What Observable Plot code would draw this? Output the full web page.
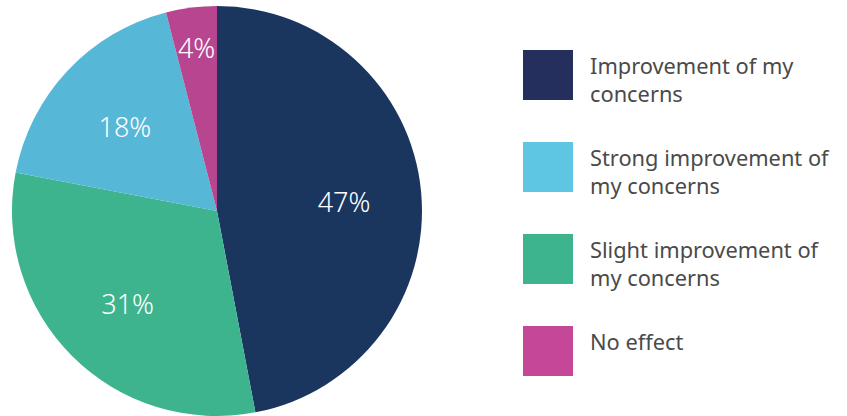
<!DOCTYPE html>
<html><head><meta charset="utf-8">
<script src="https://cdn.jsdelivr.net/npm/d3@7"></script>
<script src="https://cdn.jsdelivr.net/npm/@observablehq/plot@0.6"></script>
<style>
html,body{margin:0;padding:0;background:#fff;}
#wrap{position:relative;width:847px;height:416px;overflow:hidden;}
#legend{position:absolute;left:523px;top:50px;font-family:"Noto Sans",sans-serif;font-weight:400;font-size:21.8px;color:#4a4a4a;}
.item{display:flex;align-items:flex-start;height:92px;}
.sw{width:50px;height:50px;flex:none;}
.lab{margin-left:17px;line-height:28.5px;margin-top:1.5px;}
</style></head>
<body><div id="wrap"></div>
<script>
const categories = ["Improvement of my concerns","Slight improvement of my concerns","Strong improvement of my concerns","No effect"];
const values = [47, 31, 18, 4];
const labels = ["47%","31%","18%","4%"];
const pieColors = ["#1a365f","#3db48e","#56b7d7","#b8458f"];
const legendOrder = ["Improvement of my concerns","Strong improvement of my concerns","Slight improvement of my concerns","No effect"];
const legendLines = [["Improvement of my","concerns"],["Strong improvement of","my concerns"],["Slight improvement of","my concerns"],["No effect"]];
const legendColors = ["#252f5e","#5ec5e3","#3db48e","#c44897"];

const W = 847, H = 416, CX = 217, CY = 211, R = 205;
const pie = d3.pie().sort(null).value(d => d.value);
const table = categories.map((c, i) => ({category: c, value: values[i], label: labels[i], color: pieColors[i]}));
const arcs = pie(table);
// label positions in data units (radius 1 = pie radius)
const labelData = arcs.map(a => {
  const mid = (a.startAngle + a.endAngle) / 2;
  const span = a.endAngle - a.startAngle;
  const r = Math.max(0.62, (42 / R) / span);
  return {label: a.data.label, x: r * Math.sin(mid), y: r * Math.cos(mid)};
});

const pieMark = (index, scales, values, dimensions) => {
  const x0 = scales.x(0), y0 = scales.y(0);
  const rad = scales.x(1) - scales.x(0);
  const arc = d3.arc().innerRadius(0).outerRadius(rad);
  const g = d3.create("svg:g").attr("transform", `translate(${x0},${y0})`);
  g.selectAll("path").data(arcs).join("path")
    .attr("d", arc)
    .attr("fill", d => d.data.color);
  return g.node();
};

const chart = Plot.plot({
  width: W, height: H,
  margin: 0,
  x: {domain: [-CX / R, (W - CX) / R], range: [0, W], axis: null},
  y: {domain: [-(H - CY) / R, CY / R], range: [H, 0], axis: null},
  style: {background: "transparent", overflow: "visible"},
  marks: [
    pieMark,
    Plot.text(labelData, {x: "x", y: "y", text: "label", fill: "white", fontSize: 27, fontWeight: 350,
      fontFamily: "Noto Sans, sans-serif", textAnchor: "middle", lineAnchor: "middle", dy: 4})
  ]
});
const wrap = document.getElementById("wrap");
wrap.appendChild(chart);

const legend = document.createElement("div");
legend.id = "legend";
legendOrder.forEach((c, i) => {
  const item = document.createElement("div");
  item.className = "item";
  const sw = document.createElement("div");
  sw.className = "sw";
  sw.style.background = legendColors[i];
  const lab = document.createElement("div");
  lab.className = "lab";
  lab.innerHTML = legendLines[i].join("<br>");
  item.appendChild(sw); item.appendChild(lab);
  legend.appendChild(item);
});
wrap.appendChild(legend);
</script></body></html>
